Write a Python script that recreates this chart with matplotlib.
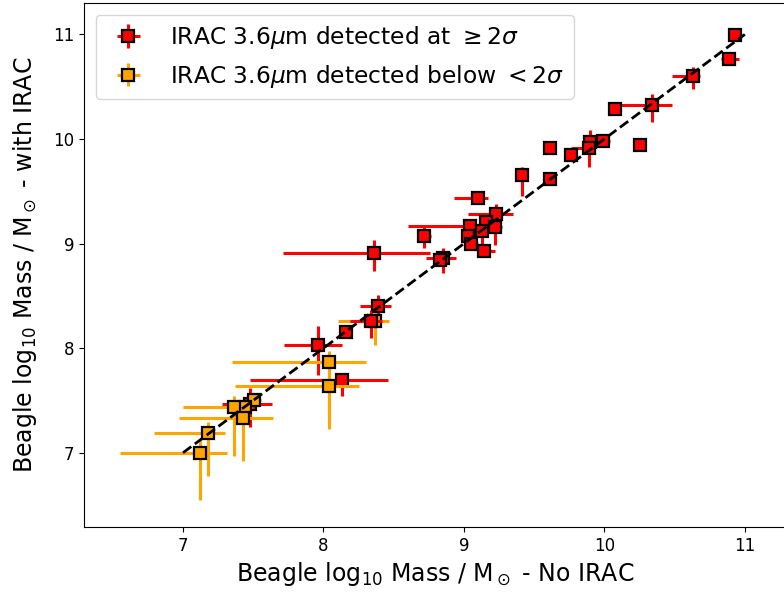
import numpy as np
import matplotlib
matplotlib.use("Agg")
import matplotlib.pyplot as plt

# IRAC 3.6um detected at >= 2 sigma
red_x = [10.93, 10.89, 10.63, 10.075, 10.34, 9.61, 10.25, 9.99, 9.90, 9.89, 9.76,
         9.61, 9.41, 9.10, 9.23, 9.16, 9.04, 9.22, 9.13, 9.03, 9.05, 9.14,
         8.715, 8.85, 8.83, 8.36, 8.39, 8.34, 8.16, 7.96, 8.13, 7.48]
red_y = [10.99, 10.76, 10.60, 10.29, 10.32, 9.91, 9.94, 9.98, 9.97, 9.91, 9.85,
         9.62, 9.66, 9.44, 9.28, 9.21, 9.17, 9.16, 9.12, 9.07, 9.00, 8.93,
         9.07, 8.86, 8.84, 8.91, 8.40, 8.26, 8.15, 8.03, 7.70, 7.47]
red_xlo = [0.03, 0.06, 0.15, 0.03, 0.23, 0.03, 0.03, 0.05, 0.05, 0.13, 0.04,
           0.03, 0.04, 0.17, 0.20, 0.05, 0.44, 0.05, 0.05, 0.05, 0.05, 0.05,
           0.05, 0.12, 0.05, 0.65, 0.13, 0.15, 0.03, 0.24, 0.65, 0.20]
red_xhi = [0.03, 0.07, 0.05, 0.03, 0.14, 0.03, 0.03, 0.05, 0.05, 0.03, 0.04,
           0.03, 0.04, 0.07, 0.12, 0.05, 0.05, 0.05, 0.05, 0.05, 0.05, 0.08,
           0.05, 0.09, 0.05, 0.40, 0.09, 0.08, 0.03, 0.17, 0.33, 0.15]
red_ylo = [0.03, 0.04, 0.12, 0.03, 0.16, 0.03, 0.03, 0.05, 0.10, 0.18, 0.04,
           0.03, 0.21, 0.05, 0.12, 0.06, 0.05, 0.17, 0.13, 0.05, 0.05, 0.05,
           0.11, 0.14, 0.05, 0.17, 0.10, 0.16, 0.03, 0.29, 0.16, 0.22]
red_yhi = [0.03, 0.04, 0.09, 0.03, 0.11, 0.03, 0.03, 0.05, 0.12, 0.10, 0.04,
           0.03, 0.07, 0.05, 0.10, 0.06, 0.05, 0.05, 0.05, 0.05, 0.05, 0.05,
           0.10, 0.10, 0.05, 0.12, 0.11, 0.10, 0.03, 0.18, 0.05, 0.15]

# IRAC 3.6um detected below < 2 sigma
orange_x = [8.04, 8.04, 8.37, 7.505, 7.44, 7.36, 7.425, 7.18, 7.12]
orange_y = [7.87, 7.64, 8.26, 7.50, 7.44, 7.44, 7.33, 7.19, 7.00]
orange_xlo = [0.69, 0.67, 0.27, 0.05, 0.05, 0.36, 0.455, 0.39, 0.57]
orange_xhi = [0.26, 0.21, 0.10, 0.05, 0.05, 0.10, 0.215, 0.12, 0.19]
orange_ylo = [0.54, 0.41, 0.23, 0.05, 0.05, 0.47, 0.41, 0.41, 0.45]
orange_yhi = [0.10, 0.10, 0.08, 0.05, 0.05, 0.10, 0.10, 0.10, 0.12]

# red points that sit on top of the orange ones
red_on_top = [27]

one_to_one = [7, 11]

fig = plt.figure(figsize=(7.84, 5.94), dpi=100)
ax = fig.add_axes([84 / 784, 67 / 594, 703 / 784, 524 / 594])

style = dict(fmt="s", ms=9, mec="black", mew=1.6, elinewidth=2.2, capsize=0)

for i in range(len(red_x)):
    z = 4 if i in red_on_top else 2
    ax.errorbar(red_x[i], red_y[i],
                xerr=[[red_xlo[i]], [red_xhi[i]]], yerr=[[red_ylo[i]], [red_yhi[i]]],
                color="red", zorder=z, **style)

for i in range(len(orange_x)):
    ax.errorbar(orange_x[i], orange_y[i],
                xerr=[[orange_xlo[i]], [orange_xhi[i]]], yerr=[[orange_ylo[i]], [orange_yhi[i]]],
                color="orange", zorder=3, **style)

ax.plot(one_to_one, one_to_one, "k--", lw=2, zorder=5)

# legend handles
h1 = ax.errorbar([], [], xerr=[], yerr=[], color="red", **style)
h2 = ax.errorbar([], [], xerr=[], yerr=[], color="orange", **style)
ax.legend([h1, h2],
          [r"IRAC 3.6$\mu$m detected at $\geq 2\sigma$",
           r"IRAC 3.6$\mu$m detected below $< 2\sigma$"],
          loc="upper left", fontsize=16.8)

ax.set_xlim(6.295, 11.3)
ax.set_ylim(6.29, 11.3)
ax.set_xticks([7, 8, 9, 10, 11])
ax.set_yticks([7, 8, 9, 10, 11])
ax.tick_params(labelsize=12)
ax.set_xlabel(r"Beagle log$_{10}$ Mass / M$_\odot$ - No IRAC", fontsize=17)
ax.set_ylabel(r"Beagle log$_{10}$ Mass / M$_\odot$ - with IRAC", fontsize=17, labelpad=10)

plt.savefig("out.png", dpi=100)
